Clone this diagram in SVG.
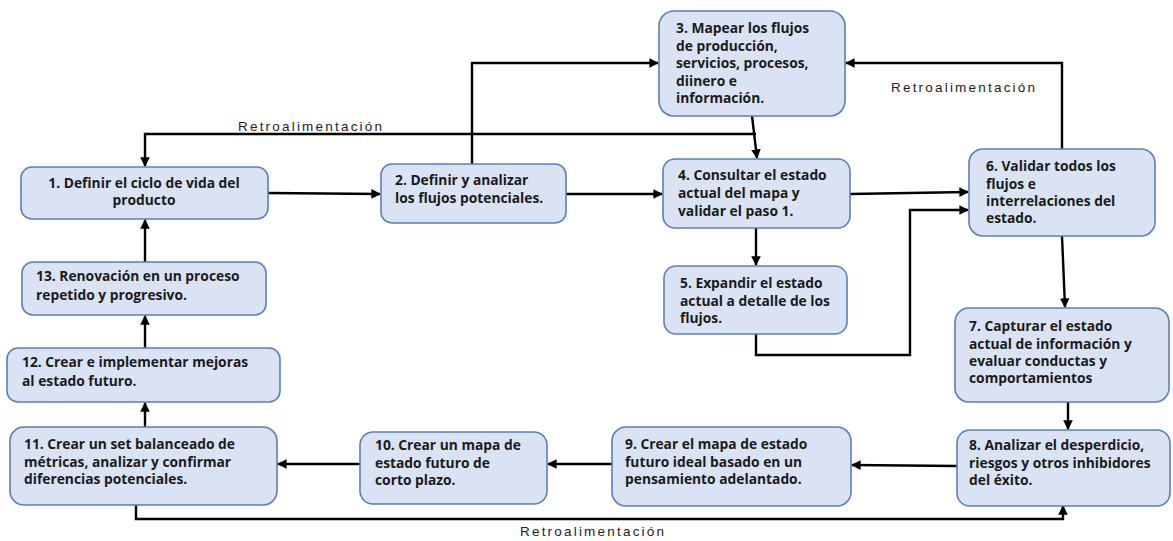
<svg xmlns="http://www.w3.org/2000/svg" width="1173" height="541" viewBox="0 0 1173 541">
  <style>
    .box { fill: #dae3f3; stroke: #5b7fb5; stroke-width: 1.6; }
    .t { font-family: "Open Sans", "Liberation Sans", sans-serif; font-weight: bold; font-size: 13.8px; fill: #1a1a1a; }
    .c { text-anchor: middle; }
    .lbl { font-family: "Liberation Sans", "DejaVu Sans", sans-serif; font-size: 13.5px; letter-spacing: 2.2px; fill: #222; }
    .wire { fill: none; stroke: #000; stroke-width: 2.4; marker-end: url(#arrow); }
  </style>
  <defs>
    <marker id="arrow" viewBox="0 0 10 10" refX="9" refY="5" markerWidth="4" markerHeight="4" orient="auto" markerUnits="strokeWidth">
      <path d="M0,0 L10,5 L0,10 z" fill="#000"/>
    </marker>
  </defs>
  <rect width="1173" height="541" fill="#ffffff"/>

  <g id="connectors">
    <path class="wire" d="M268,193 L380,194"/>
    <path class="wire" d="M566,194 L662,194"/>
    <path class="wire" d="M472,164 L472,63 L658,63"/>
    <path class="wire" d="M752,116 L757,158"/>
    <path class="wire" d="M756,134 L145,134 L145,166"/>
    <path class="wire" d="M850,194 L968,192"/>
    <path class="wire" d="M756,228 L756,265"/>
    <path class="wire" d="M756,334 L756,355 L910,355 L910,210 L968,210"/>
    <path class="wire" d="M1062,149 L1062,63 L846,63"/>
    <path class="wire" d="M1062,236 L1065,307"/>
    <path class="wire" d="M1068,402 L1068,429"/>
    <path class="wire" d="M957,466 L852,465"/>
    <path class="wire" d="M612,464 L548,464"/>
    <path class="wire" d="M360,464 L278,464"/>
    <path class="wire" d="M145,427 L145,403"/>
    <path class="wire" d="M145,348 L145,316"/>
    <path class="wire" d="M145,262 L145,220"/>
    <path class="wire" d="M136,505 L136,519 L1063,519 L1063,506"/>
    <text class="lbl" x="238" y="131">Retroalimentación</text>
    <text class="lbl" x="891" y="92">Retroalimentación</text>
    <text class="lbl" x="520" y="536">Retroalimentación</text>
  </g>

  <g id="n1">
    <rect class="box" x="21" y="167" width="247" height="52" rx="11"/>
    <text class="t c" x="144" y="188">1. Definir el ciclo de vida del</text>
    <text class="t c" x="144" y="205">producto</text>
  </g>
  <g id="n2">
    <rect class="box" x="381" y="164" width="185" height="59" rx="11"/>
    <text class="t" x="395" y="185">2. Definir y analizar</text>
    <text class="t" x="395" y="203">los flujos potenciales.</text>
  </g>
  <g id="n3">
    <rect class="box" x="659" y="11" width="186" height="105" rx="15"/>
    <text class="t" x="676" y="33">3. Mapear los flujos</text>
    <text class="t" x="676" y="51">de producción,</text>
    <text class="t" x="676" y="68">servicios, procesos,</text>
    <text class="t" x="676" y="86">diinero e</text>
    <text class="t" x="676" y="103">información.</text>
  </g>
  <g id="n4">
    <rect class="box" x="663" y="159" width="187" height="69" rx="12"/>
    <text class="t" x="678" y="180">4. Consultar el estado</text>
    <text class="t" x="678" y="198">actual del mapa y</text>
    <text class="t" x="678" y="216">validar el paso 1.</text>
  </g>
  <g id="n5">
    <rect class="box" x="664" y="266" width="183" height="68" rx="12"/>
    <text class="t" x="680" y="288">5. Expandir el estado</text>
    <text class="t" x="680" y="306">actual a detalle de los</text>
    <text class="t" x="680" y="323">flujos.</text>
  </g>
  <g id="n6">
    <rect class="box" x="969" y="149" width="186" height="87" rx="14"/>
    <text class="t" x="986" y="171">6. Validar todos los</text>
    <text class="t" x="986" y="189">flujos e</text>
    <text class="t" x="986" y="206">interrelaciones del</text>
    <text class="t" x="986" y="223">estado.</text>
  </g>
  <g id="n7">
    <rect class="box" x="955" y="308" width="214" height="94" rx="14"/>
    <text class="t" x="969" y="331">7. Capturar el estado</text>
    <text class="t" x="969" y="349">actual de información y</text>
    <text class="t" x="969" y="366">evaluar conductas y</text>
    <text class="t" x="969" y="383">comportamientos</text>
  </g>
  <g id="n8">
    <rect class="box" x="957" y="430" width="213" height="76" rx="13"/>
    <text class="t" x="969" y="450">8. Analizar el desperdicio,</text>
    <text class="t" x="969" y="468">riesgos y otros inhibidores</text>
    <text class="t" x="969" y="485">del éxito.</text>
  </g>
  <g id="n9">
    <rect class="box" x="612" y="427" width="239" height="79" rx="14"/>
    <text class="t" x="625" y="449">9. Crear el mapa de estado</text>
    <text class="t" x="625" y="467">futuro ideal basado en un</text>
    <text class="t" x="625" y="484">pensamiento adelantado.</text>
  </g>
  <g id="n10">
    <rect class="box" x="360" y="432" width="187" height="72" rx="13"/>
    <text class="t" x="375" y="450">10. Crear un mapa de</text>
    <text class="t" x="375" y="468">estado futuro de</text>
    <text class="t" x="375" y="485">corto plazo.</text>
  </g>
  <g id="n11">
    <rect class="box" x="10" y="427" width="267" height="78" rx="14"/>
    <text class="t" x="24" y="449">11. Crear un set balanceado de</text>
    <text class="t" x="24" y="467">métricas, analizar y confirmar</text>
    <text class="t" x="24" y="484">diferencias potenciales.</text>
  </g>
  <g id="n12">
    <rect class="box" x="7" y="348" width="273" height="54" rx="11"/>
    <text class="t" x="22" y="367">12. Crear e implementar mejoras</text>
    <text class="t" x="22" y="386">al estado futuro.</text>
  </g>
  <g id="n13">
    <rect class="box" x="22" y="262" width="244" height="53" rx="11"/>
    <text class="t" x="36" y="281">13. Renovación en un proceso</text>
    <text class="t" x="36" y="300">repetido y progresivo.</text>
  </g>
</svg>
